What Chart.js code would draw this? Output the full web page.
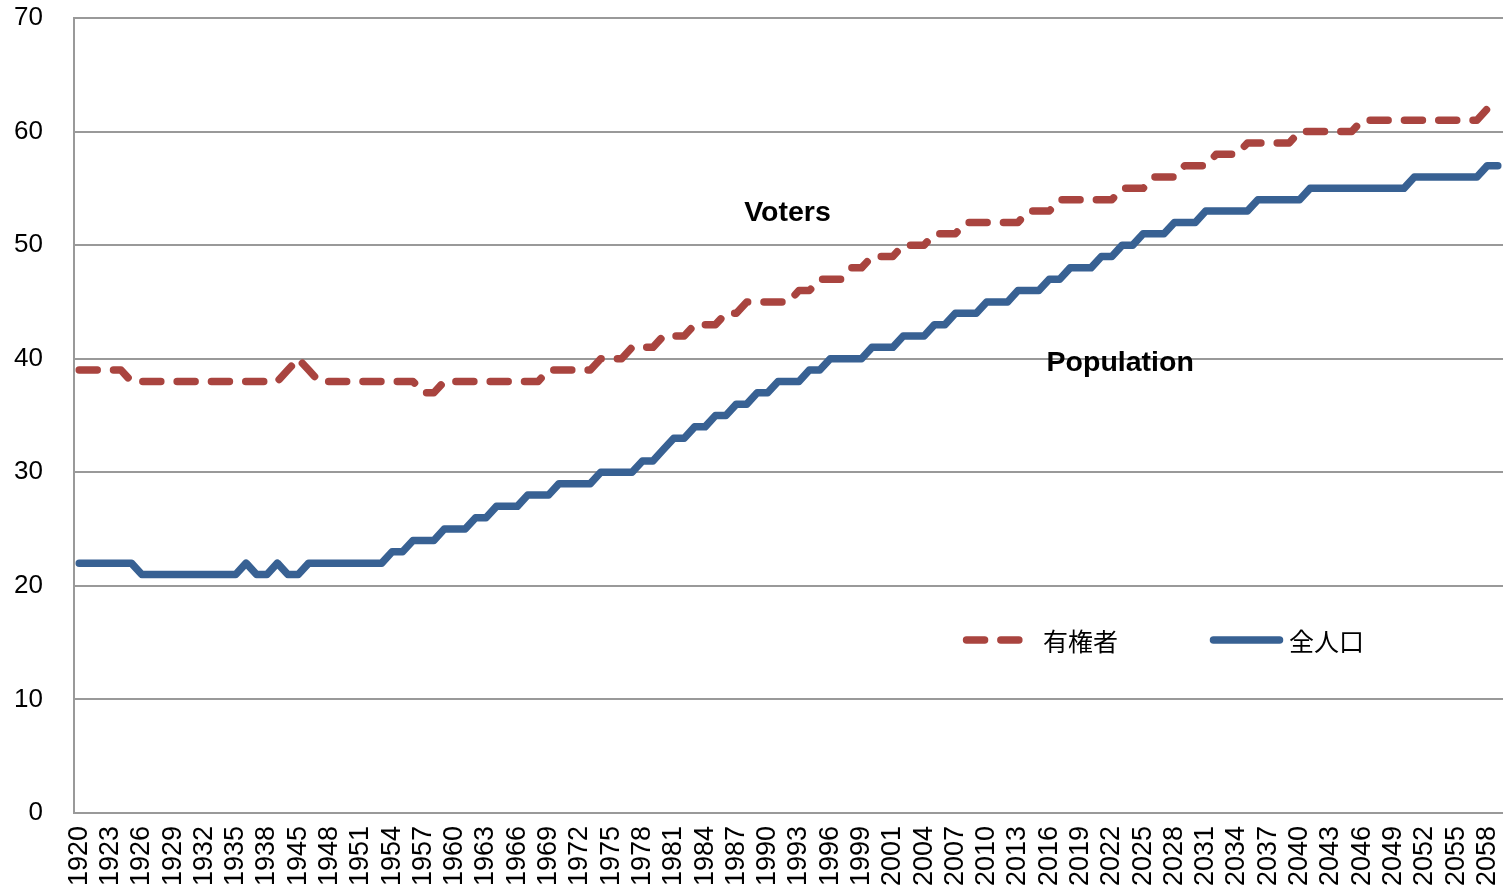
<!DOCTYPE html>
<html>
<head>
<meta charset="utf-8">
<script src="https://cdn.jsdelivr.net/npm/chart.js@4"></script>
<style>
  html, body { margin: 0; padding: 0; background: #ffffff; }
  #wrap { width: 1503px; height: 892px; }
</style>
</head>
<body>
<div id="wrap"><canvas id="c" width="1503" height="892"></canvas></div>
<script>
// Years on the category axis (every third one is labelled)
const years = [
  "1920","1921","1922","1923","1924","1925","1926","1927","1928","1929",
  "1930","1931","1932","1933","1934","1935","1936","1937","1938","1939",
  "1940","1945","1946","1947","1948","1949","1950","1951","1952","1953",
  "1954","1955","1956","1957","1958","1959","1960","1961","1962","1963",
  "1964","1965","1966","1967","1968","1969","1970","1971","1972","1973",
  "1974","1975","1976","1977","1978","1979","1980","1981","1982","1983",
  "1984","1985","1986","1987","1988","1989","1990","1991","1992","1993",
  "1994","1995","1996","1997","1998","1999","2000","2000","2001","2002",
  "2003","2004","2005","2006","2007","2008","2009","2010","2011","2012",
  "2013","2014","2015","2016","2017","2018","2019","2020","2021","2022",
  "2023","2024","2025","2026","2027","2028","2029","2030","2031","2032",
  "2033","2034","2035","2036","2037","2038","2039","2040","2041","2042",
  "2043","2044","2045","2046","2047","2048","2049","2050","2051","2052",
  "2053","2054","2055","2056","2057","2058","2059"
];

// Median age of eligible voters
const voters = [
  39,39,39,39,39,38,38,38,38,38,
  38,38,38,38,38,38,38,38,38,38,
  39,40,39,38,38,38,38,38,38,38,
  38,38,38,37,37,38,38,38,38,38,
  38,38,38,38,38,39,39,39,39,39,
  40,40,40,41,41,41,42,42,42,43,
  43,43,44,44,45,45,45,45,45,46,
  46,47,47,47,48,48,49,49,49,50,
  50,50,51,51,51,52,52,52,52,52,
  52,53,53,53,54,54,54,54,54,54,
  55,55,55,56,56,56,57,57,57,58,
  58,58,59,59,59,59,59,60,60,60,
  60,60,60,61,61,61,61,61,61,61,
  61,61,61,61,61,62,62
];

// Median age of the whole population
const population = [
  22,22,22,22,22,22,21,21,21,21,
  21,21,21,21,21,21,22,21,21,22,
  21,21,22,22,22,22,22,22,22,22,
  23,23,24,24,24,25,25,25,26,26,
  27,27,27,28,28,28,29,29,29,29,
  30,30,30,30,31,31,32,33,33,34,
  34,35,35,36,36,37,37,38,38,38,
  39,39,40,40,40,40,41,41,41,42,
  42,42,43,43,44,44,44,45,45,45,
  46,46,46,47,47,48,48,48,49,49,
  50,50,51,51,51,52,52,52,53,53,
  53,53,53,54,54,54,54,54,55,55,
  55,55,55,55,55,55,55,55,56,56,
  56,56,56,56,56,57,57
];

const seriesNames = ["有権者", "全人口"];
const yTicks = [0, 10, 20, 30, 40, 50, 60, 70];

const RED = "#A9443F";
const BLUE = "#386193";
const GRID = "#999999";
const LATIN = "'Liberation Sans', Arial, sans-serif";
const CJK = "'Noto Sans CJK JP', 'Noto Sans CJK SC', sans-serif";
const DASH = [18, 16.3];

// Bold labels placed next to each curve, positioned in data space
const curveLabels = [
  { text: "Voters", index: 67.9, value: 52.1 },
  { text: "Population", index: 99.8, value: 38.9 }
];

const labelPlugin = {
  id: "curveLabels",
  afterDatasetsDraw(chart) {
    const { ctx, scales } = chart;
    ctx.save();
    ctx.font = "bold 28.5px " + LATIN;
    ctx.fillStyle = "#000000";
    ctx.textAlign = "center";
    ctx.textBaseline = "alphabetic";
    curveLabels.forEach(l => {
      ctx.fillText(l.text, scales.x.getPixelForValue(l.index), scales.y.getPixelForValue(l.value));
    });
    ctx.restore();
  }
};

// Legend drawn inside the plot area, lower right
const legendPlugin = {
  id: "innerLegend",
  afterDraw(chart) {
    const { ctx, chartArea } = chart;
    const w = chartArea.right - chartArea.left;
    const h = chartArea.bottom - chartArea.top;
    const y = chartArea.top + h * 0.7824;
    const starts = [chartArea.left + w * 0.6246, chartArea.left + w * 0.7974];
    const sampleLen = 66;
    ctx.save();
    chart.data.datasets.forEach((ds, i) => {
      const x0 = starts[i];
      ctx.beginPath();
      ctx.strokeStyle = ds.borderColor;
      ctx.lineWidth = ds.borderWidth;
      ctx.lineCap = "round";
      ctx.setLineDash(ds.borderDash || []);
      ctx.moveTo(x0, y);
      ctx.lineTo(x0 + sampleLen, y);
      ctx.stroke();
      ctx.setLineDash([]);
      ctx.font = "25px " + CJK;
      ctx.fillStyle = "#000000";
      ctx.textAlign = "left";
      ctx.textBaseline = "middle";
      ctx.fillText(ds.label, x0 + sampleLen + (i === 0 ? 10.5 : 9.5), y + 1);
    });
    ctx.restore();
  }
};

new Chart(document.getElementById("c"), {
  type: "line",
  data: {
    labels: years,
    datasets: [
      {
        label: seriesNames[0],
        data: voters,
        borderColor: RED,
        backgroundColor: RED,
        borderWidth: 7.5,
        borderDash: DASH,
        borderCapStyle: "round",
        borderJoinStyle: "round",
        pointRadius: 0,
        tension: 0,
        fill: false
      },
      {
        label: seriesNames[1],
        data: population,
        borderColor: BLUE,
        backgroundColor: BLUE,
        borderWidth: 7.5,
        borderCapStyle: "round",
        borderJoinStyle: "round",
        pointRadius: 0,
        tension: 0,
        fill: false
      }
    ]
  },
  options: {
    responsive: false,
    animation: false,
    devicePixelRatio: 1,
    layout: { padding: { top: 18, right: 0, bottom: 0, left: 0 } },
    plugins: {
      legend: { display: false },
      tooltip: { enabled: false }
    },
    scales: {
      x: {
        offset: true,
        grid: { display: false, drawTicks: false },
        border: { display: true, color: GRID, width: 2 },
        ticks: {
          autoSkip: false,
          minRotation: 90,
          maxRotation: 90,
          padding: 13,
          color: "#000000",
          font: { family: LATIN, size: 27 },
          callback: (v, i) => (i % 3 === 0 ? years[i] : "")
        },
        afterFit: s => {
          s.height = 79;
          s.paddingLeft = 0;
          s.paddingRight = 0;
        }
      },
      y: {
        min: yTicks[0],
        max: yTicks[yTicks.length - 1],
        afterBuildTicks: s => { s.ticks = yTicks.map(v => ({ value: v })); },
        grid: { color: GRID, lineWidth: 2, drawTicks: false },
        border: { display: true, color: GRID, width: 2 },
        ticks: {
          padding: 31,
          color: "#000000",
          font: { family: LATIN, size: 26 }
        },
        afterFit: s => {
          s.width = 74;
          s.paddingTop = 0;
          s.paddingBottom = 0;
        }
      }
    }
  },
  plugins: [labelPlugin, legendPlugin]
});
</script>
</body>
</html>
